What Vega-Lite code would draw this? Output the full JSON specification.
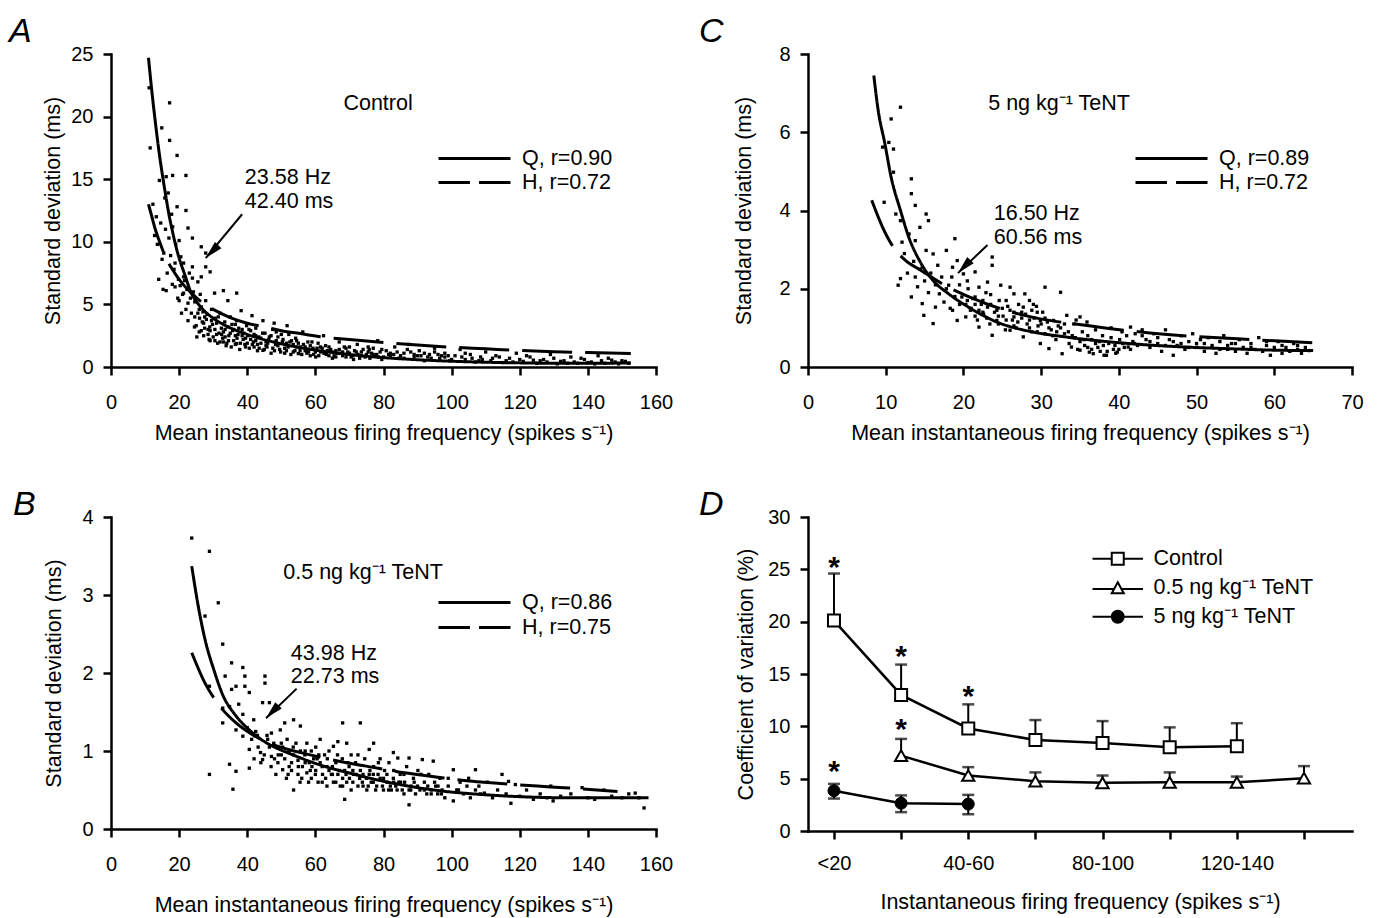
{
"$schema": "https://vega.github.io/schema/vega-lite/v6.json",
"padding": {"left": 9, "top": 15, "right": 5, "bottom": 5},
"background": "white",
"columns": 2,
"bounds": "flush",
"spacing": {"row": 150, "column": 152},
"resolve": {"scale": {"shape": "independent", "fill": "independent", "strokeDash": "independent"}, "legend": {"shape": "independent", "fill": "independent"}},
"config": {
  "font": "Liberation Sans",
  "view": {"stroke": null},
  "axis": {"grid": false, "domainColor": "black", "domainWidth": 2.5, "domainCap": "square", "tickColor": "black", "tickWidth": 2.5, "tickSize": 8, "labelColor": "black", "labelFontSize": 20, "labelFlush": false, "labelOverlap": false, "titleColor": "black", "titleFontSize": 21.5, "titleFontWeight": "normal"},
  "axisX": {"labelPadding": 17, "titleBaseline": "middle"},
  "axisY": {"labelPadding": 10, "titleBaseline": "middle"},
  "legend": {"labelColor": "black"},
  "title": {"color": "black"}
},
"datasets": {
  "A_pts": [
{"x":11.2,"y":22.3},{"x":11.5,"y":17.5},{"x":12.3,"y":13.0},{"x":12.8,"y":10.5},{"x":13.3,"y":12.0},{"x":13.6,"y":9.8},{"x":14.0,"y":7.0},{"x":14.2,"y":14.9},{"x":14.6,"y":11.5},{"x":14.9,"y":19.1},{"x":15.0,"y":8.6},{"x":15.3,"y":6.2},{"x":15.5,"y":9.1},{"x":15.8,"y":13.5},{"x":16.0,"y":11.0},{"x":16.2,"y":15.2},{"x":16.2,"y":6.1},{"x":16.5,"y":7.5},{"x":16.8,"y":13.9},{"x":17.0,"y":10.3},{"x":17.2,"y":21.1},{"x":17.2,"y":18.1},{"x":17.5,"y":8.9},{"x":17.8,"y":12.2},{"x":18.0,"y":6.6},{"x":18.1,"y":15.3},{"x":18.1,"y":11.2},{"x":18.5,"y":7.8},{"x":18.8,"y":8.3},{"x":18.8,"y":6.4},{"x":19.0,"y":9.8},{"x":19.4,"y":16.9},{"x":19.4,"y":12.8},{"x":19.6,"y":5.5},{"x":19.8,"y":7.0},{"x":20.0,"y":10.1},{"x":20.0,"y":5.3},{"x":20.3,"y":6.5},{"x":20.5,"y":8.8},{"x":20.7,"y":4.3},{"x":21.0,"y":5.8},{"x":21.3,"y":8.3},{"x":21.3,"y":7.2},{"x":21.3,"y":5.9},{"x":21.6,"y":6.9},{"x":22.0,"y":15.3},{"x":22.0,"y":12.5},{"x":22.0,"y":4.6},{"x":22.3,"y":6.2},{"x":22.6,"y":11.1},{"x":22.6,"y":5.1},{"x":22.6,"y":3.7},{"x":23.0,"y":7.5},{"x":23.3,"y":5.5},{"x":23.6,"y":4.3},{"x":23.9,"y":10.3},{"x":23.9,"y":8.0},{"x":23.9,"y":7.1},{"x":24.2,"y":6.0},{"x":24.6,"y":4.0},{"x":24.6,"y":5.2},{"x":25.0,"y":3.3},{"x":25.2,"y":2.4},{"x":25.5,"y":6.8},{"x":25.9,"y":2.8},{"x":25.9,"y":4.6},{"x":26.2,"y":5.8},{"x":26.5,"y":9.6},{"x":26.5,"y":7.2},{"x":26.5,"y":4.8},{"x":26.8,"y":3.6},{"x":27.2,"y":3.5},{"x":27.2,"y":2.5},{"x":27.8,"y":9.1},{"x":27.8,"y":8.0},{"x":27.8,"y":5.3},{"x":28.2,"y":4.2},{"x":28.5,"y":3.0},{"x":28.8,"y":2.2},{"x":29.1,"y":7.6},{"x":29.1,"y":2.9},{"x":29.1,"y":2.1},{"x":29.5,"y":4.6},{"x":29.8,"y":3.4},{"x":30.4,"y":9.6},{"x":30.4,"y":5.9},{"x":30.6,"y":3.9},{"x":31.0,"y":2.6},{"x":31.3,"y":1.9},{"x":31.7,"y":2.7},{"x":32.0,"y":4.3},{"x":32.4,"y":3.1},{"x":32.8,"y":2.3},{"x":33.0,"y":6.1},{"x":33.0,"y":2.0},{"x":33.4,"y":3.6},{"x":33.8,"y":1.7},{"x":34.3,"y":5.3},{"x":34.3,"y":3.2},{"x":34.6,"y":2.5},{"x":35.0,"y":4.0},{"x":35.3,"y":1.6},{"x":35.7,"y":2.9},{"x":36.0,"y":2.1},{"x":36.5,"y":3.4},{"x":36.9,"y":5.9},{"x":36.9,"y":3.7},{"x":36.9,"y":1.87},{"x":37.3,"y":2.6},{"x":37.8,"y":1.4},{"x":38.2,"y":4.5},{"x":38.5,"y":3.0},{"x":38.8,"y":2.2},{"x":39.3,"y":1.8},{"x":39.8,"y":3.3},{"x":40.2,"y":2.5},{"x":40.6,"y":1.5},{"x":41.0,"y":2.9},{"x":41.4,"y":4.1},{"x":41.8,"y":2.0},{"x":42.0,"y":1.6},{"x":42.5,"y":3.1},{"x":43.0,"y":1.3},{"x":43.4,"y":2.4},{"x":44.0,"y":1.9},{"x":44.6,"y":3.7},{"x":44.6,"y":1.33},{"x":45.2,"y":2.7},{"x":45.8,"y":1.6},{"x":46.3,"y":2.2},{"x":47.0,"y":1.1},{"x":47.5,"y":3.0},{"x":47.9,"y":3.5},{"x":48.3,"y":1.8},{"x":49.0,"y":2.4},{"x":49.8,"y":1.2},{"x":50.3,"y":2.0},{"x":51.0,"y":1.5},{"x":51.7,"y":3.3},{"x":52.2,"y":2.6},{"x":52.8,"y":1.0},{"x":53.5,"y":1.8},{"x":54.2,"y":2.3},{"x":55.0,"y":1.07},{"x":55.6,"y":1.6},{"x":56.3,"y":2.8},{"x":57.0,"y":1.3},{"x":57.8,"y":2.0},{"x":58.5,"y":0.9},{"x":59.3,"y":1.5},{"x":60.1,"y":0.8},{"x":60.8,"y":1.9},{"x":61.5,"y":1.2},{"x":62.4,"y":2.5},{"x":63.2,"y":1.0},{"x":64.0,"y":1.6},{"x":65.0,"y":0.7},{"x":66.0,"y":1.3},{"x":67.0,"y":2.0},{"x":68.0,"y":0.9},{"x":69.0,"y":1.5},{"x":70.0,"y":1.1},{"x":71.2,"y":0.6},{"x":72.3,"y":1.8},{"x":73.5,"y":1.2},{"x":74.6,"y":0.8},{"x":75.8,"y":1.4},{"x":77.0,"y":1.0},{"x":78.3,"y":2.1},{"x":79.5,"y":0.6},{"x":80.8,"y":1.3},{"x":82.0,"y":0.9},{"x":83.3,"y":1.6},{"x":84.5,"y":0.7},{"x":86.0,"y":1.1},{"x":87.5,"y":1.8},{"x":89.0,"y":0.8},{"x":90.5,"y":1.3},{"x":92.0,"y":0.5},{"x":93.5,"y":1.0},{"x":95.0,"y":1.5},{"x":96.5,"y":0.7},{"x":98.0,"y":1.1},{"x":99.5,"y":0.5},{"x":101,"y":0.9},{"x":102.5,"y":1.4},{"x":104,"y":0.6},{"x":105.5,"y":1.0},{"x":107,"y":0.4},{"x":108.5,"y":0.8},{"x":110,"y":1.2},{"x":111.5,"y":0.5},{"x":113,"y":0.9},{"x":115,"y":0.35},{"x":117,"y":0.7},{"x":119,"y":1.1},{"x":121,"y":0.45},{"x":123,"y":0.8},{"x":125,"y":0.3},{"x":127,"y":0.6},{"x":129,"y":1.0},{"x":131,"y":0.25},{"x":133,"y":0.5},{"x":135,"y":0.8},{"x":137,"y":0.3},{"x":139,"y":0.6},{"x":141,"y":0.4},{"x":143,"y":0.9},{"x":145,"y":0.3},{"x":147,"y":0.55},{"x":149,"y":0.25},{"x":151,"y":0.45},{"x":152,"y":0.3},
{"x":26,"y":3.9},{"x":27,"y":4.4},{"x":28,"y":3.8},{"x":29,"y":3.2},{"x":30,"y":2.4},{"x":31,"y":3.5},{"x":32,"y":2.0},{"x":33,"y":2.8},{"x":34,"y":1.9},{"x":35,"y":2.7},{"x":36,"y":3.0},{"x":37,"y":2.3},{"x":38,"y":1.9},{"x":39,"y":2.7},{"x":40,"y":1.9},{"x":41,"y":2.2},{"x":42,"y":2.6},{"x":43,"y":1.8},{"x":44,"y":2.3},{"x":45,"y":1.4},{"x":46,"y":1.9},{"x":47,"y":2.5},{"x":48,"y":1.3},{"x":49,"y":1.7},{"x":50,"y":2.6},{"x":51,"y":1.1},{"x":52,"y":1.6},{"x":53,"y":2.1},{"x":54,"y":1.3},{"x":55,"y":1.9},{"x":56,"y":1.0},{"x":57,"y":1.6},{"x":58,"y":1.2},{"x":59,"y":2.0},{"x":60,"y":1.2},{"x":61,"y":0.9},{"x":62,"y":1.5},{"x":63,"y":1.7},{"x":64,"y":0.9},{"x":65,"y":1.2},{"x":66,"y":0.8},{"x":67,"y":1.4},{"x":68,"y":1.2},{"x":69,"y":0.8},{"x":70,"y":1.6},{"x":71,"y":0.9},{"x":72,"y":1.2},{"x":73,"y":0.7},{"x":74,"y":1.4},{"x":75,"y":1.0},{"x":76,"y":0.7},{"x":77,"y":1.5},{"x":78,"y":1.0},{"x":79,"y":1.2},{"x":80,"y":0.8},{"x":82,"y":1.1},{"x":84,"y":1.2},{"x":86,"y":0.7},{"x":88,"y":1.2},{"x":90,"y":0.9},{"x":92,"y":1.1},{"x":94,"y":0.7},{"x":96,"y":1.0},{"x":98,"y":0.8},{"x":100,"y":0.6},{"x":103,"y":0.8},{"x":106,"y":0.7},{"x":109,"y":0.6},{"x":112,"y":0.7},{"x":116,"y":0.5},{"x":120,"y":0.6},{"x":124,"y":0.55},{"x":128,"y":0.4},{"x":132,"y":0.45},{"x":136,"y":0.4},{"x":140,"y":0.35},{"x":144,"y":0.5},{"x":148,"y":0.4},
{"x":27.5,"y":3.1},{"x":30.5,"y":3.0},{"x":33.5,"y":2.4},{"x":36.5,"y":2.5},{"x":39.5,"y":2.3},{"x":42.5,"y":2.1},{"x":45.5,"y":2.0},{"x":48.5,"y":2.1},{"x":51.5,"y":1.9},{"x":54.5,"y":1.6},{"x":57.5,"y":1.4},{"x":60.5,"y":1.5},{"x":63.5,"y":1.3},{"x":66.5,"y":1.1},{"x":69.5,"y":1.2},{"x":72.5,"y":1.0},{"x":75.5,"y":1.2},{"x":78.5,"y":0.8},{"x":81.5,"y":1.0},{"x":85,"y":0.9},{"x":89,"y":1.0},{"x":93,"y":0.8},{"x":97,"y":0.9},
{"x":24.5,"y":3.2},{"x":25.5,"y":4.3},{"x":26.5,"y":2.9},{"x":27.5,"y":4.0},{"x":28.5,"y":2.6},{"x":29.5,"y":3.7},{"x":30.5,"y":2.1},{"x":31.5,"y":4.0},{"x":32.5,"y":2.6},{"x":33.5,"y":3.0},{"x":34.5,"y":2.1},{"x":35.5,"y":3.4},{"x":36.5,"y":1.8},{"x":37.5,"y":3.1},{"x":38.5,"y":2.5},{"x":39.5,"y":1.6},{"x":40.5,"y":3.0},{"x":41.5,"y":1.8},{"x":42.5,"y":2.5},{"x":43.5,"y":1.5},{"x":44.5,"y":2.7},{"x":45.5,"y":1.7},{"x":46.5,"y":2.4},{"x":47.5,"y":1.5},{"x":48.5,"y":2.8},{"x":49.5,"y":1.4},{"x":50.5,"y":2.2},{"x":51.5,"y":1.3},{"x":52.5,"y":2.0},{"x":53.5,"y":1.2},{"x":54.5,"y":2.1},{"x":55.5,"y":1.3},{"x":56.5,"y":1.8},{"x":57.5,"y":1.1},{"x":58.5,"y":1.7},{"x":59.5,"y":1.0},{"x":61.5,"y":1.6},{"x":62.5,"y":1.1},{"x":64.5,"y":1.4},{"x":65.5,"y":0.9},{"x":67.5,"y":1.1},{"x":68.5,"y":1.6},{"x":70.5,"y":0.8},{"x":71.5,"y":1.3},{"x":73.5,"y":0.9},{"x":75.5,"y":1.6},{"x":76.5,"y":1.1},{"x":79.5,"y":1.4},{"x":83,"y":1.0},{"x":87,"y":1.4},{"x":91,"y":0.9},{"x":95,"y":1.2},{"x":99,"y":0.9},{"x":104,"y":1.1},{"x":108,"y":0.5},{"x":114,"y":0.8},{"x":118,"y":0.4},{"x":122,"y":0.9},{"x":126,"y":0.5},{"x":130,"y":0.7},{"x":134,"y":0.3},{"x":138,"y":0.7},{"x":142,"y":0.25},{"x":146,"y":0.7},{"x":150,"y":0.5}
  ],
  "A_fit": [
{"fit":"Q","x":11,"y":24.7},{"fit":"Q","x":12,"y":22.0},{"fit":"Q","x":13,"y":19.6},{"fit":"Q","x":14,"y":17.4},{"fit":"Q","x":15,"y":15.5},{"fit":"Q","x":16,"y":13.8},{"fit":"Q","x":17,"y":12.2},{"fit":"Q","x":18,"y":10.9},{"fit":"Q","x":19,"y":9.7},{"fit":"Q","x":20,"y":8.7},{"fit":"Q","x":21.5,"y":7.5},{"fit":"Q","x":23.6,"y":5.9},{"fit":"Q","x":26,"y":4.9},{"fit":"Q","x":29,"y":4.1},{"fit":"Q","x":33,"y":3.4},{"fit":"Q","x":40,"y":2.6},{"fit":"Q","x":50,"y":1.85},{"fit":"Q","x":60,"y":1.35},{"fit":"Q","x":70,"y":1.0},{"fit":"Q","x":80,"y":0.75},{"fit":"Q","x":90,"y":0.58},{"fit":"Q","x":100,"y":0.46},{"fit":"Q","x":110,"y":0.38},{"fit":"Q","x":120,"y":0.33},{"fit":"Q","x":130,"y":0.3},{"fit":"Q","x":140,"y":0.3},{"fit":"Q","x":152.6,"y":0.32},
{"fit":"H","x":11,"y":13.0},{"fit":"H","x":12,"y":12.0},{"fit":"H","x":13,"y":11.0},{"fit":"H","x":14,"y":10.2},{"fit":"H","x":16,"y":8.8},{"fit":"H","x":18,"y":7.8},{"fit":"H","x":20,"y":7.0},{"fit":"H","x":23.6,"y":5.9},{"fit":"H","x":27,"y":5.1},{"fit":"H","x":30,"y":4.6},{"fit":"H","x":35,"y":3.95},{"fit":"H","x":40,"y":3.5},{"fit":"H","x":45,"y":3.2},{"fit":"H","x":50,"y":2.9},{"fit":"H","x":56,"y":2.65},{"fit":"H","x":62,"y":2.4},{"fit":"H","x":70,"y":2.2},{"fit":"H","x":80,"y":1.95},{"fit":"H","x":90,"y":1.75},{"fit":"H","x":100,"y":1.58},{"fit":"H","x":110,"y":1.45},{"fit":"H","x":120,"y":1.32},{"fit":"H","x":130,"y":1.22},{"fit":"H","x":140,"y":1.15},{"fit":"H","x":152.6,"y":1.07}
  ],
  "A_arr": [{"x":38.5,"y":12.2,"x2":27.8,"y2":8.7}],
  "A_num": [{"t":"23.58 Hz","x":39.3,"y":15.1},{"t":"42.40 ms","x":39.3,"y":13.2}],
  "A_cond": [{"t":"Control","x":78.4,"y":21.0}],
  "C_pts": [
{"x":9.6,"y":5.62},{"x":9.8,"y":4.21},{"x":10.4,"y":5.74},{"x":10.7,"y":6.34},{"x":11.0,"y":5.57},{"x":11.0,"y":4.98},{"x":11.3,"y":3.91},{"x":11.6,"y":2.09},{"x":11.9,"y":6.64},{"x":11.9,"y":3.74},{"x":11.9,"y":2.26},{"x":12.1,"y":3.19},{"x":12.4,"y":2.9},{"x":12.8,"y":2.4},{"x":13.0,"y":3.40},{"x":13.3,"y":4.81},{"x":13.3,"y":4.43},{"x":13.3,"y":1.79},{"x":13.6,"y":2.7},{"x":13.8,"y":4.13},{"x":13.8,"y":3.23},{"x":13.8,"y":2.30},{"x":14.1,"y":2.05},{"x":14.4,"y":3.57},{"x":14.4,"y":2.5},{"x":14.7,"y":2.55},{"x":14.7,"y":1.62},{"x":14.9,"y":1.32},{"x":15.0,"y":2.2},{"x":15.2,"y":3.91},{"x":15.2,"y":2.98},{"x":15.5,"y":3.74},{"x":15.5,"y":1.9},{"x":15.8,"y":2.4},{"x":16.1,"y":2.89},{"x":16.1,"y":1.11},{"x":16.4,"y":1.53},{"x":16.4,"y":2.1},{"x":16.7,"y":2.6},{"x":16.9,"y":1.87},{"x":17.2,"y":2.3},{"x":17.5,"y":1.66},{"x":17.8,"y":2.98},{"x":17.8,"y":2.0},{"x":18.1,"y":2.09},{"x":18.3,"y":1.5},{"x":18.6,"y":2.55},{"x":18.6,"y":1.45},{"x":18.9,"y":3.28},{"x":18.9,"y":1.8},{"x":19.2,"y":2.72},{"x":19.2,"y":1.19},{"x":19.5,"y":2.1},{"x":19.8,"y":1.79},{"x":20.0,"y":2.38},{"x":20.3,"y":1.28},{"x":20.3,"y":1.6},{"x":20.6,"y":2.0},{"x":20.9,"y":1.45},{"x":21.2,"y":1.75},{"x":21.5,"y":2.43},{"x":21.5,"y":1.79},{"x":21.8,"y":1.2},{"x":22.0,"y":2.04},{"x":22.0,"y":1.45},{"x":22.0,"y":1.02},{"x":22.3,"y":1.6},{"x":22.6,"y":1.35},{"x":22.9,"y":1.9},{"x":23.1,"y":2.17},{"x":23.1,"y":1.53},{"x":23.4,"y":1.1},{"x":23.7,"y":2.81},{"x":23.7,"y":2.6},{"x":23.7,"y":0.81},{"x":24.0,"y":1.4},{"x":24.3,"y":1.45},{"x":24.3,"y":1.19},{"x":24.6,"y":1.7},{"x":24.8,"y":2.09},{"x":25.1,"y":1.3},{"x":25.4,"y":0.95},{"x":25.7,"y":1.55},{"x":26.0,"y":2.04},{"x":26.0,"y":1.45},{"x":26.0,"y":0.94},{"x":26.3,"y":1.2},{"x":26.5,"y":1.87},{"x":26.5,"y":1.28},{"x":26.8,"y":1.0},{"x":27.1,"y":1.6},{"x":27.4,"y":1.35},{"x":27.7,"y":1.53},{"x":27.7,"y":0.77},{"x":27.9,"y":1.87},{"x":28.2,"y":1.1},{"x":28.5,"y":1.7},{"x":28.8,"y":1.45},{"x":28.8,"y":0.9},{"x":29.1,"y":1.25},{"x":29.4,"y":1.55},{"x":29.6,"y":1.05},{"x":29.9,"y":1.19},{"x":29.9,"y":0.60},{"x":30.2,"y":1.4},{"x":30.5,"y":2.04},{"x":30.5,"y":0.85},{"x":30.8,"y":1.15},{"x":31.0,"y":0.47},{"x":31.3,"y":0.95},{"x":31.6,"y":1.19},{"x":31.9,"y":0.7},{"x":32.2,"y":1.05},{"x":32.5,"y":1.91},{"x":32.7,"y":0.34},{"x":33.0,"y":0.85},{"x":33.3,"y":1.32},{"x":33.6,"y":0.6},{"x":33.9,"y":0.51},{"x":34.2,"y":1.1},{"x":34.4,"y":0.75},{"x":34.7,"y":0.45},{"x":35.0,"y":1.28},{"x":35.0,"y":0.43},{"x":35.3,"y":0.9},{"x":35.6,"y":0.55},{"x":35.9,"y":1.15},{"x":36.2,"y":0.38},{"x":36.5,"y":0.7},{"x":36.7,"y":0.34},{"x":37.0,"y":0.95},{"x":37.3,"y":0.5},{"x":37.6,"y":0.4},{"x":37.9,"y":0.8},{"x":38.1,"y":0.3},{"x":38.4,"y":0.30},{"x":38.7,"y":0.6},{"x":39.0,"y":1.0},{"x":39.3,"y":0.45},{"x":39.6,"y":0.35},{"x":39.8,"y":0.38},{"x":40.1,"y":0.7},{"x":40.4,"y":0.9},{"x":40.7,"y":0.5},{"x":41.0,"y":0.8},{"x":41.2,"y":0.51},{"x":41.5,"y":1.02},{"x":41.8,"y":0.65},{"x":42.1,"y":0.85},{"x":42.4,"y":0.55},{"x":43.0,"y":0.95},{"x":43.5,"y":0.7},{"x":44.0,"y":0.5},{"x":44.5,"y":0.85},{"x":45.0,"y":0.6},{"x":45.5,"y":0.4},{"x":46.0,"y":0.95},{"x":46.5,"y":0.7},{"x":47.0,"y":0.3},{"x":47.5,"y":0.55},{"x":48.0,"y":0.8},{"x":48.5,"y":0.45},{"x":49.0,"y":0.65},{"x":49.5,"y":0.85},{"x":50.0,"y":0.5},{"x":50.5,"y":0.7},{"x":51.0,"y":0.4},{"x":51.5,"y":0.75},{"x":52.0,"y":0.55},{"x":52.5,"y":0.35},{"x":53.0,"y":0.65},{"x":53.5,"y":0.8},{"x":54.0,"y":0.45},{"x":54.5,"y":0.6},{"x":55.0,"y":0.4},{"x":55.5,"y":0.7},{"x":56.0,"y":0.5},{"x":56.5,"y":0.35},{"x":57.0,"y":0.6},{"x":57.5,"y":0.45},{"x":58.0,"y":0.75},{"x":58.5,"y":0.4},{"x":59.0,"y":0.55},{"x":59.5,"y":0.3},{"x":60.0,"y":0.5},{"x":60.5,"y":0.65},{"x":61.0,"y":0.35},{"x":61.5,"y":0.5},{"x":62.0,"y":0.4},{"x":62.5,"y":0.6},{"x":63.0,"y":0.45},{"x":63.5,"y":0.35},{"x":64.0,"y":0.5},{"x":64.5,"y":0.42},
{"x":20.5,"y":1.7},{"x":21,"y":1.5},{"x":21.5,"y":1.3},{"x":22.5,"y":1.7},{"x":23,"y":1.25},{"x":23.5,"y":1.6},{"x":24.5,"y":1.1},{"x":25,"y":1.5},{"x":25.5,"y":1.2},{"x":26.5,"y":1.4},{"x":27,"y":1.15},{"x":27.5,"y":1.25},{"x":28,"y":1.35},{"x":28.5,"y":1.0},{"x":29,"y":1.6},{"x":29.5,"y":0.9},{"x":30,"y":1.1},{"x":31,"y":1.0},{"x":32,"y":0.9},{"x":33,"y":1.1},{"x":34,"y":0.8},{"x":35,"y":0.65},{"x":36,"y":0.5},{"x":36,"y":0.8},{"x":37,"y":0.6},{"x":38,"y":0.55},{"x":39,"y":0.75},{"x":40,"y":0.45},{"x":42,"y":0.6},{"x":44,"y":0.65},{"x":46,"y":0.55},{"x":48,"y":0.6},{"x":50,"y":0.6},{"x":52,"y":0.5},{"x":54,"y":0.55},
{"x":18.5,"y":2.3},{"x":19.5,"y":1.6},{"x":20.5,"y":2.2},{"x":21.5,"y":1.6},{"x":22.5,"y":1.4},{"x":23.5,"y":1.85},{"x":24.5,"y":1.3},{"x":25.5,"y":1.7},{"x":26.5,"y":1.05},{"x":27.5,"y":1.4},{"x":28.5,"y":1.2},{"x":29.5,"y":1.4},{"x":30.5,"y":1.25},{"x":31.5,"y":0.8},{"x":32.5,"y":1.0},{"x":33.5,"y":0.9},{"x":34.5,"y":1.2},{"x":35.5,"y":0.7},{"x":36.5,"y":0.45},{"x":37.5,"y":0.65},{"x":38.5,"y":0.4},{"x":39.5,"y":0.55},{"x":40.5,"y":0.6},{"x":41.5,"y":0.45},{"x":43,"y":0.8},{"x":45,"y":0.75},{"x":47,"y":0.65},{"x":49,"y":0.5},{"x":51,"y":0.6},{"x":53,"y":0.45},{"x":55,"y":0.6},{"x":57,"y":0.5},{"x":59,"y":0.65},{"x":61,"y":0.55},{"x":63,"y":0.55}
  ],
  "C_fit": [
{"fit":"Q","x":8.47,"y":7.45},{"fit":"Q","x":9,"y":6.6},{"fit":"Q","x":9.9,"y":5.7},{"fit":"Q","x":10.7,"y":4.85},{"fit":"Q","x":11.9,"y":4.0},{"fit":"Q","x":13,"y":3.3},{"fit":"Q","x":14.4,"y":2.7},{"fit":"Q","x":16.1,"y":2.21},{"fit":"Q","x":18.1,"y":1.87},{"fit":"Q","x":20.9,"y":1.5},{"fit":"Q","x":24.3,"y":1.15},{"fit":"Q","x":28.8,"y":0.9},{"fit":"Q","x":32.7,"y":0.78},{"fit":"Q","x":38.4,"y":0.65},{"fit":"Q","x":44,"y":0.56},{"fit":"Q","x":49.7,"y":0.5},{"fit":"Q","x":55.3,"y":0.46},{"fit":"Q","x":60,"y":0.43},{"fit":"Q","x":65,"y":0.42},
{"fit":"H","x":8.2,"y":4.26},{"fit":"H","x":9.6,"y":3.57},{"fit":"H","x":11,"y":3.06},{"fit":"H","x":12.4,"y":2.75},{"fit":"H","x":14.7,"y":2.45},{"fit":"H","x":17.5,"y":2.1},{"fit":"H","x":20.9,"y":1.78},{"fit":"H","x":25.4,"y":1.45},{"fit":"H","x":29.9,"y":1.23},{"fit":"H","x":34.4,"y":1.1},{"fit":"H","x":39,"y":0.98},{"fit":"H","x":44,"y":0.87},{"fit":"H","x":49.7,"y":0.78},{"fit":"H","x":55.3,"y":0.72},{"fit":"H","x":60,"y":0.67},{"fit":"H","x":65,"y":0.62}
  ],
  "C_arr": [{"x":23.1,"y":3.12,"x2":19.3,"y2":2.4}],
  "C_num": [{"t":"16.50 Hz","x":23.9,"y":3.9},{"t":"60.56 ms","x":23.9,"y":3.3}],
  "C_cond": [{"t":"5 ng kg⁻¹ TeNT","x":32.3,"y":6.73}],
  "B_pts": [
{"x":23.7,"y":3.73},{"x":27.6,"y":2.73},{"x":28.9,"y":3.56},{"x":28.9,"y":1.83},{"x":28.9,"y":0.70},{"x":31.5,"y":2.90},{"x":32.8,"y":2.37},{"x":32.8,"y":1.55},{"x":32.8,"y":1.36},{"x":33.5,"y":1.96},{"x":34.8,"y":1.57},{"x":34.8,"y":0.83},{"x":35.4,"y":2.13},{"x":35.4,"y":1.79},{"x":35.8,"y":0.51},{"x":36.7,"y":1.83},{"x":36.7,"y":1.27},{"x":36.7,"y":0.74},{"x":37.5,"y":1.6},{"x":38.7,"y":2.07},{"x":38.7,"y":1.47},{"x":38.7,"y":1.19},{"x":39.3,"y":1.96},{"x":39.3,"y":1.83},{"x":40.0,"y":1.3},{"x":40.6,"y":1.75},{"x":40.6,"y":1.02},{"x":40.6,"y":0.78},{"x":41.3,"y":1.15},{"x":41.9,"y":1.40},{"x":42.5,"y":1.25},{"x":43.2,"y":1.05},{"x":43.9,"y":0.98},{"x":44.5,"y":1.62},{"x":44.5,"y":0.89},{"x":45.2,"y":1.96},{"x":45.2,"y":1.87},{"x":45.8,"y":1.2},{"x":46.5,"y":1.62},{"x":46.5,"y":1.05},{"x":47.1,"y":1.23},{"x":47.1,"y":0.93},{"x":47.8,"y":1.1},{"x":48.4,"y":1.57},{"x":48.4,"y":0.70},{"x":49.1,"y":0.95},{"x":49.7,"y":1.27},{"x":50.4,"y":0.76},{"x":50.4,"y":1.05},{"x":51.0,"y":1.36},{"x":51.0,"y":0.9},{"x":51.7,"y":1.15},{"x":52.3,"y":0.80},{"x":52.3,"y":1.0},{"x":53.0,"y":0.85},{"x":53.6,"y":1.40},{"x":53.6,"y":0.50},{"x":53.6,"y":0.95},{"x":54.3,"y":1.1},{"x":54.9,"y":0.70},{"x":54.9,"y":0.88},{"x":55.6,"y":1.32},{"x":55.6,"y":1.0},{"x":56.2,"y":0.8},{"x":56.9,"y":0.95},{"x":57.5,"y":0.72},{"x":57.5,"y":1.1},{"x":58.2,"y":0.85},{"x":58.8,"y":0.65},{"x":58.8,"y":1.0},{"x":59.5,"y":0.9},{"x":60.1,"y":0.75},{"x":60.1,"y":1.05},{"x":60.8,"y":0.6},{"x":61.4,"y":0.85},{"x":61.4,"y":1.15},{"x":62.1,"y":0.7},{"x":62.7,"y":0.95},{"x":63.4,"y":0.55},{"x":63.4,"y":0.8},{"x":64.0,"y":1.0},{"x":64.7,"y":0.7},{"x":65.3,"y":1.06},{"x":65.3,"y":0.6},{"x":66.0,"y":0.85},{"x":66.6,"y":1.12},{"x":66.6,"y":0.7},{"x":67.3,"y":0.55},{"x":67.9,"y":0.9},{"x":68.0,"y":1.36},{"x":68.6,"y":0.38},{"x":68.6,"y":0.75},{"x":69.2,"y":1.10},{"x":69.2,"y":0.6},{"x":69.9,"y":0.8},{"x":70.5,"y":0.5},{"x":70.5,"y":0.95},{"x":71.2,"y":0.7},{"x":71.8,"y":0.85},{"x":72.5,"y":0.55},{"x":73.2,"y":1.36},{"x":73.2,"y":0.75},{"x":73.8,"y":0.6},{"x":74.5,"y":0.9},{"x":75.1,"y":0.5},{"x":75.8,"y":1.02},{"x":75.8,"y":0.7},{"x":76.4,"y":0.6},{"x":77.1,"y":1.10},{"x":77.1,"y":0.8},{"x":77.7,"y":0.5},{"x":78.4,"y":0.7},{"x":79.0,"y":0.9},{"x":79.7,"y":0.55},{"x":80.3,"y":0.75},{"x":81.0,"y":0.6},{"x":81.6,"y":0.85},{"x":82.3,"y":0.5},{"x":82.9,"y":0.98},{"x":82.9,"y":0.65},{"x":83.6,"y":0.55},{"x":84.2,"y":0.91},{"x":84.9,"y":0.7},{"x":85.5,"y":0.5},{"x":86.2,"y":0.6},{"x":86.8,"y":0.8},{"x":87.5,"y":0.91},{"x":87.5,"y":0.31},{"x":88.1,"y":0.55},{"x":88.8,"y":0.65},{"x":89.4,"y":0.45},{"x":90.1,"y":0.75},{"x":90.7,"y":0.5},{"x":91.4,"y":0.89},{"x":92.0,"y":0.6},{"x":92.7,"y":0.45},{"x":93.3,"y":0.7},{"x":94.0,"y":0.5},{"x":94.6,"y":0.87},{"x":95.3,"y":0.55},{"x":95.9,"y":0.45},{"x":96.6,"y":0.65},{"x":97.2,"y":0.5},{"x":98.0,"y":0.4},{"x":99.0,"y":0.55},{"x":100.5,"y":0.76},{"x":100.5,"y":0.36},{"x":101.5,"y":0.5},{"x":102.5,"y":0.6},{"x":103.5,"y":0.45},{"x":104.5,"y":0.55},{"x":105.5,"y":0.4},{"x":107,"y":0.76},{"x":107,"y":0.5},{"x":108.5,"y":0.45},{"x":109.6,"y":0.46},{"x":110.5,"y":0.6},{"x":112,"y":0.4},{"x":113.5,"y":0.5},{"x":114.8,"y":0.70},{"x":116,"y":0.45},{"x":116.7,"y":0.61},{"x":117.4,"y":0.33},{"x":118.7,"y":0.57},{"x":120,"y":0.42},{"x":122,"y":0.5},{"x":124,"y":0.38},{"x":126,"y":0.45},{"x":128,"y":0.4},{"x":129.1,"y":0.55},{"x":129.8,"y":0.36},{"x":132,"y":0.42},{"x":135,"y":0.45},{"x":138.3,"y":0.53},{"x":140,"y":0.4},{"x":142,"y":0.38},{"x":144.7,"y":0.50},{"x":147,"y":0.42},{"x":150,"y":0.4},{"x":152,"y":0.45},{"x":153.9,"y":0.46},{"x":155,"y":0.4},{"x":156.5,"y":0.27},
{"x":45,"y":0.95},{"x":47,"y":0.8},{"x":49,"y":0.85},{"x":50,"y":0.95},{"x":52,"y":0.7},{"x":53,"y":0.75},{"x":55,"y":0.8},{"x":56,"y":0.65},{"x":57,"y":0.85},{"x":58,"y":0.6},{"x":59,"y":0.8},{"x":60,"y":0.7},{"x":61,"y":0.95},{"x":62,"y":0.8},{"x":63,"y":0.65},{"x":64,"y":0.75},{"x":65,"y":0.8},{"x":66,"y":0.6},{"x":67,"y":0.75},{"x":68,"y":0.65},{"x":69,"y":0.7},{"x":70,"y":0.65},{"x":71,"y":0.6},{"x":72,"y":0.7},{"x":73,"y":0.65},{"x":74,"y":0.55},{"x":75,"y":0.65},{"x":76,"y":0.75},{"x":77,"y":0.6},{"x":78,"y":0.55},{"x":79,"y":0.65},{"x":80,"y":0.5},{"x":81,"y":0.7},{"x":82,"y":0.55},{"x":83,"y":0.6},{"x":84,"y":0.5},{"x":85,"y":0.6},{"x":86,"y":0.45},{"x":88,"y":0.5},{"x":90,"y":0.55},{"x":92,"y":0.5},{"x":94,"y":0.45},{"x":96,"y":0.55},
{"x":42,"y":0.9},{"x":43,"y":1.2},{"x":44,"y":0.85},{"x":46,"y":1.15},{"x":48,"y":0.9},{"x":50,"y":1.1},{"x":51.5,"y":0.65},{"x":53.5,"y":1.05},{"x":55.5,"y":0.6},{"x":57,"y":1.0},{"x":58.5,"y":0.75},{"x":60.5,"y":0.9},{"x":62,"y":0.6},{"x":63.5,"y":0.9},{"x":65,"y":0.7},{"x":66.5,"y":0.95},{"x":68,"y":0.55},{"x":69.5,"y":0.85},{"x":71,"y":0.75},{"x":72.5,"y":0.95},{"x":74,"y":0.7},{"x":75.5,"y":0.55},{"x":77,"y":0.7},{"x":78.5,"y":0.85},{"x":80,"y":0.65},{"x":81.5,"y":0.5},{"x":83,"y":0.75},{"x":84.5,"y":0.6},{"x":86,"y":0.7},{"x":87.5,"y":0.5},{"x":89,"y":0.6},{"x":91,"y":0.7},{"x":93,"y":0.55},{"x":95,"y":0.6},{"x":97,"y":0.45},{"x":99,"y":0.65},{"x":102,"y":0.5},{"x":105,"y":0.65},{"x":108,"y":0.55}
  ],
  "B_fit": [
{"fit":"Q","x":23.7,"y":3.37},{"fit":"Q","x":25.6,"y":2.86},{"fit":"Q","x":27.6,"y":2.43},{"fit":"Q","x":30.2,"y":2.04},{"fit":"Q","x":32.8,"y":1.72},{"fit":"Q","x":36.7,"y":1.45},{"fit":"Q","x":40.6,"y":1.27},{"fit":"Q","x":44,"y":1.15},{"fit":"Q","x":48,"y":1.05},{"fit":"Q","x":52.3,"y":0.97},{"fit":"Q","x":60.1,"y":0.84},{"fit":"Q","x":70.6,"y":0.71},{"fit":"Q","x":83.6,"y":0.58},{"fit":"Q","x":96.6,"y":0.49},{"fit":"Q","x":109.6,"y":0.44},{"fit":"Q","x":122.6,"y":0.41},{"fit":"Q","x":135.6,"y":0.4},{"fit":"Q","x":157.8,"y":0.4},
{"fit":"H","x":23.7,"y":2.26},{"fit":"H","x":27.6,"y":1.87},{"fit":"H","x":31.5,"y":1.6},{"fit":"H","x":36.7,"y":1.36},{"fit":"H","x":41.9,"y":1.2},{"fit":"H","x":44,"y":1.15},{"fit":"H","x":48.4,"y":1.07},{"fit":"H","x":57.5,"y":0.96},{"fit":"H","x":68,"y":0.86},{"fit":"H","x":78.4,"y":0.78},{"fit":"H","x":86.2,"y":0.72},{"fit":"H","x":96.6,"y":0.66},{"fit":"H","x":104.4,"y":0.62},{"fit":"H","x":109.6,"y":0.6},{"fit":"H","x":125.2,"y":0.55},{"fit":"H","x":133,"y":0.53},{"fit":"H","x":148.7,"y":0.48}
  ],
  "B_arr": [{"x":54.5,"y":1.8,"x2":45.5,"y2":1.42}],
  "B_num": [{"t":"43.98 Hz","x":52.8,"y":2.25},{"t":"22.73 ms","x":52.8,"y":1.95}],
  "B_cond": [{"t":"0.5 ng kg⁻¹ TeNT","x":74.0,"y":3.28}],
  "D": [
{"s":"Control","f":"<20","cv":20.1,"lo":20.1,"hi":24.6},
{"s":"Control","f":"20-40","cv":13.0,"lo":13.0,"hi":15.9},
{"s":"Control","f":"40-60","cv":9.8,"lo":9.8,"hi":12.1},
{"s":"Control","f":"60-80","cv":8.7,"lo":8.7,"hi":10.6},
{"s":"Control","f":"80-100","cv":8.4,"lo":8.4,"hi":10.5},
{"s":"Control","f":"100-120","cv":8.0,"lo":8.0,"hi":9.9},
{"s":"Control","f":"120-140","cv":8.1,"lo":8.1,"hi":10.3},
{"s":"0.5 ng kg⁻¹ TeNT","f":"20-40","cv":7.2,"lo":7.2,"hi":8.8},
{"s":"0.5 ng kg⁻¹ TeNT","f":"40-60","cv":5.3,"lo":5.3,"hi":6.1},
{"s":"0.5 ng kg⁻¹ TeNT","f":"60-80","cv":4.75,"lo":4.75,"hi":5.6},
{"s":"0.5 ng kg⁻¹ TeNT","f":"80-100","cv":4.6,"lo":4.6,"hi":5.3},
{"s":"0.5 ng kg⁻¹ TeNT","f":"100-120","cv":4.65,"lo":4.65,"hi":5.6},
{"s":"0.5 ng kg⁻¹ TeNT","f":"120-140","cv":4.65,"lo":4.65,"hi":5.2},
{"s":"0.5 ng kg⁻¹ TeNT","f":"140-160","cv":5.05,"lo":5.05,"hi":6.2},
{"s":"5 ng kg⁻¹ TeNT","f":"<20","cv":3.85,"lo":3.1,"hi":4.5},
{"s":"5 ng kg⁻¹ TeNT","f":"20-40","cv":2.65,"lo":1.8,"hi":3.4},
{"s":"5 ng kg⁻¹ TeNT","f":"40-60","cv":2.57,"lo":1.6,"hi":3.45}
  ],
  "D_star": [{"f":"<20","y":25.8},{"f":"20-40","y":17.3},{"f":"40-60","y":13.5},{"f":"20-40","y":10.3},{"f":"<20","y":6.3}]
},
"concat": [
 {
  "width": 545, "height": 313,
  "title": {"text": "A", "anchor": "start", "frame": "group", "fontSize": 34, "fontStyle": "italic", "fontWeight": "normal", "baseline": "alphabetic", "dx": -102, "offset": -32},
  "layer": [
   {"data": {"name": "A_pts"}, "mark": {"type": "point", "filled": true, "shape": "square", "size": 11, "color": "black", "opacity": 1},
    "encoding": {
     "x": {"field": "x", "type": "quantitative", "scale": {"domain": [0, 160], "nice": false}, "axis": {"values": [0,20,40,60,80,100,120,140,160], "title": "Mean instantaneous firing frequency (spikes s⁻¹)", "titleY": 66}},
     "y": {"field": "y", "type": "quantitative", "scale": {"domain": [0, 25], "nice": false}, "axis": {"values": [0,5,10,15,20,25], "format": "d", "title": "Standard deviation (ms)", "titleX": -58}}}},
   {"data": {"name": "A_fit"}, "mark": {"type": "line", "color": "black", "strokeWidth": 3, "interpolate": "monotone"},
    "encoding": {"x": {"field": "x", "type": "quantitative"}, "y": {"field": "y", "type": "quantitative"},
     "strokeDash": {"field": "fit", "type": "nominal", "scale": {"domain": ["Q", "H"], "range": [[1, 0], [50, 13]]}, "legend": null}}},
   {"data": {"name": "A_arr"}, "mark": {"type": "rule", "color": "black", "strokeWidth": 2},
    "encoding": {"x": {"field": "x", "type": "quantitative"}, "y": {"field": "y", "type": "quantitative"}, "x2": {"field": "x2"}, "y2": {"field": "y2"}}},
   {"data": {"name": "A_arr"}, "mark": {"type": "point", "shape": "M0,0L0.5,2L-0.5,2Z", "size": 324, "angle": 224, "filled": true, "color": "black", "opacity": 1},
    "encoding": {"x": {"field": "x2", "type": "quantitative"}, "y": {"field": "y2", "type": "quantitative"}}},
   {"data": {"name": "A_num"}, "mark": {"type": "text", "align": "left", "baseline": "middle", "fontSize": 21.5, "color": "black"},
    "encoding": {"x": {"field": "x", "type": "quantitative"}, "y": {"field": "y", "type": "quantitative"}, "text": {"field": "t"}}},
   {"data": {"name": "A_cond"}, "mark": {"type": "text", "align": "center", "baseline": "middle", "fontSize": 21.5, "color": "black"},
    "encoding": {"x": {"field": "x", "type": "quantitative"}, "y": {"field": "y", "type": "quantitative"}, "text": {"field": "t"}}},
   {"data": {"name": "A_fit"}, "transform": [{"filter": "false"}], "mark": {"type": "point", "filled": false, "color": "black", "strokeWidth": 3, "opacity": 1},
    "encoding": {"shape": {"field": "lbl", "type": "nominal", "scale": {"domain": ["Q, r=0.90", "H, r=0.72"], "range": ["M-3,0H3", "M-3,0H-0.38M0.38,0H3"]},
     "legend": {"orient": "none", "legendX": 350, "legendY": 91, "title": null, "symbolSize": 576, "symbolStrokeWidth": 3, "symbolStrokeColor": "black", "symbolFillColor": "transparent", "symbolOpacity": 1, "labelFontSize": 21.5, "labelOffset": 34, "rowPadding": 0, "padding": 0}}}}
  ]
 },
 {
  "width": 544, "height": 313,
  "title": {"text": "C", "anchor": "start", "frame": "group", "fontSize": 34, "fontStyle": "italic", "fontWeight": "normal", "baseline": "alphabetic", "dx": -109, "offset": -32},
  "layer": [
   {"data": {"name": "C_pts"}, "mark": {"type": "point", "filled": true, "shape": "square", "size": 11, "color": "black", "opacity": 1},
    "encoding": {
     "x": {"field": "x", "type": "quantitative", "scale": {"domain": [0, 70], "nice": false}, "axis": {"values": [0,10,20,30,40,50,60,70], "title": "Mean instantaneous firing frequency (spikes s⁻¹)", "titleY": 66}},
     "y": {"field": "y", "type": "quantitative", "scale": {"domain": [0, 8], "nice": false}, "axis": {"values": [0,2,4,6,8], "format": "d", "title": "Standard deviation (ms)", "titleX": -64}}}},
   {"data": {"name": "C_fit"}, "mark": {"type": "line", "color": "black", "strokeWidth": 3, "interpolate": "monotone"},
    "encoding": {"x": {"field": "x", "type": "quantitative"}, "y": {"field": "y", "type": "quantitative"},
     "strokeDash": {"field": "fit", "type": "nominal", "scale": {"domain": ["Q", "H"], "range": [[1, 0], [50, 13]]}, "legend": null}}},
   {"data": {"name": "C_arr"}, "mark": {"type": "rule", "color": "black", "strokeWidth": 2},
    "encoding": {"x": {"field": "x", "type": "quantitative"}, "y": {"field": "y", "type": "quantitative"}, "x2": {"field": "x2"}, "y2": {"field": "y2"}}},
   {"data": {"name": "C_arr"}, "mark": {"type": "point", "shape": "M0,0L0.5,2L-0.5,2Z", "size": 324, "angle": 224, "filled": true, "color": "black", "opacity": 1},
    "encoding": {"x": {"field": "x2", "type": "quantitative"}, "y": {"field": "y2", "type": "quantitative"}}},
   {"data": {"name": "C_num"}, "mark": {"type": "text", "align": "left", "baseline": "middle", "fontSize": 21.5, "color": "black"},
    "encoding": {"x": {"field": "x", "type": "quantitative"}, "y": {"field": "y", "type": "quantitative"}, "text": {"field": "t"}}},
   {"data": {"name": "C_cond"}, "mark": {"type": "text", "align": "center", "baseline": "middle", "fontSize": 21.5, "color": "black"},
    "encoding": {"x": {"field": "x", "type": "quantitative"}, "y": {"field": "y", "type": "quantitative"}, "text": {"field": "t"}}},
   {"data": {"name": "C_fit"}, "transform": [{"filter": "false"}], "mark": {"type": "point", "filled": false, "color": "black", "strokeWidth": 3, "opacity": 1},
    "encoding": {"shape": {"field": "lbl", "type": "nominal", "scale": {"domain": ["Q, r=0.89", "H, r=0.72"], "range": ["M-3,0H3", "M-3,0H-0.38M0.38,0H3"]},
     "legend": {"orient": "none", "legendX": 350, "legendY": 91, "title": null, "symbolSize": 576, "symbolStrokeWidth": 3, "symbolStrokeColor": "black", "symbolFillColor": "transparent", "symbolOpacity": 1, "labelFontSize": 21.5, "labelOffset": 34, "rowPadding": 0, "padding": 0}}}}
  ]
 },
 {
  "width": 545, "height": 312,
  "title": {"text": "B", "anchor": "start", "frame": "group", "fontSize": 34, "fontStyle": "italic", "fontWeight": "normal", "baseline": "alphabetic", "dx": -98, "offset": -42},
  "layer": [
   {"data": {"name": "B_pts"}, "mark": {"type": "point", "filled": true, "shape": "square", "size": 11, "color": "black", "opacity": 1},
    "encoding": {
     "x": {"field": "x", "type": "quantitative", "scale": {"domain": [0, 160], "nice": false}, "axis": {"values": [0,20,40,60,80,100,120,140,160], "title": "Mean instantaneous firing frequency (spikes s⁻¹)", "titleY": 76}},
     "y": {"field": "y", "type": "quantitative", "scale": {"domain": [0, 4], "nice": false}, "axis": {"values": [0,1,2,3,4], "format": "d", "title": "Standard deviation (ms)", "titleX": -57}}}},
   {"data": {"name": "B_fit"}, "mark": {"type": "line", "color": "black", "strokeWidth": 3, "interpolate": "monotone"},
    "encoding": {"x": {"field": "x", "type": "quantitative"}, "y": {"field": "y", "type": "quantitative"},
     "strokeDash": {"field": "fit", "type": "nominal", "scale": {"domain": ["Q", "H"], "range": [[1, 0], [50, 13]]}, "legend": null}}},
   {"data": {"name": "B_arr"}, "mark": {"type": "rule", "color": "black", "strokeWidth": 2},
    "encoding": {"x": {"field": "x", "type": "quantitative"}, "y": {"field": "y", "type": "quantitative"}, "x2": {"field": "x2"}, "y2": {"field": "y2"}}},
   {"data": {"name": "B_arr"}, "mark": {"type": "point", "shape": "M0,0L0.5,2L-0.5,2Z", "size": 324, "angle": 224, "filled": true, "color": "black", "opacity": 1},
    "encoding": {"x": {"field": "x2", "type": "quantitative"}, "y": {"field": "y2", "type": "quantitative"}}},
   {"data": {"name": "B_num"}, "mark": {"type": "text", "align": "left", "baseline": "middle", "fontSize": 21.5, "color": "black"},
    "encoding": {"x": {"field": "x", "type": "quantitative"}, "y": {"field": "y", "type": "quantitative"}, "text": {"field": "t"}}},
   {"data": {"name": "B_cond"}, "mark": {"type": "text", "align": "center", "baseline": "middle", "fontSize": 21.5, "color": "black"},
    "encoding": {"x": {"field": "x", "type": "quantitative"}, "y": {"field": "y", "type": "quantitative"}, "text": {"field": "t"}}},
   {"data": {"name": "B_fit"}, "transform": [{"filter": "false"}], "mark": {"type": "point", "filled": false, "color": "black", "strokeWidth": 3, "opacity": 1},
    "encoding": {"shape": {"field": "lbl", "type": "nominal", "scale": {"domain": ["Q, r=0.86", "H, r=0.75"], "range": ["M-3,0H3", "M-3,0H-0.38M0.38,0H3"]},
     "legend": {"orient": "none", "legendX": 350, "legendY": 72, "title": null, "symbolSize": 576, "symbolStrokeWidth": 3, "symbolStrokeColor": "black", "symbolFillColor": "transparent", "symbolOpacity": 1, "labelFontSize": 21.5, "labelOffset": 34, "rowPadding": 1, "padding": 0}}}}
  ]
 },
 {
  "width": 544, "height": 314,
  "title": {"text": "D", "anchor": "start", "frame": "group", "fontSize": 34, "fontStyle": "italic", "fontWeight": "normal", "baseline": "alphabetic", "dx": -109, "offset": -42},
  "layer": [
   {"data": {"name": "D"}, "mark": {"type": "line", "color": "black", "strokeWidth": 2.5},
    "encoding": {
     "x": {"field": "f", "type": "ordinal", "scale": {"type": "point", "domain": ["<20","20-40","40-60","60-80","80-100","100-120","120-140","140-160"], "padding": 0.551, "align": 0.351},
      "axis": {"title": "Instantaneous firing frequency (spikes s⁻¹)", "labelAngle": 0, "labelAlign": "center", "labelBaseline": "top", "labelPadding": 14, "titleY": 71, "labelExpr": "indexof(['<20','40-60','80-100','120-140'], datum.value) >= 0 ? datum.label : ''"}},
     "y": {"field": "cv", "type": "quantitative", "scale": {"domain": [0, 30], "nice": false}, "axis": {"values": [0,5,10,15,20,25,30], "format": "d", "title": "Coefficient of variation (%)", "titleX": -62}},
     "detail": {"field": "s"},
     "order": {"value": null}}},
   {"data": {"name": "D"}, "mark": {"type": "rule", "color": "black", "strokeWidth": 2},
    "encoding": {"x": {"field": "f", "type": "ordinal"}, "y": {"field": "lo", "type": "quantitative"}, "y2": {"field": "hi"}}},
   {"data": {"name": "D"}, "mark": {"type": "tick", "color": "black", "size": 12, "thickness": 2.5},
    "encoding": {"x": {"field": "f", "type": "ordinal"}, "y": {"field": "hi", "type": "quantitative"}}},
   {"data": {"name": "D"}, "transform": [{"filter": "datum.s == '5 ng kg⁻¹ TeNT'"}], "mark": {"type": "tick", "color": "black", "size": 12, "thickness": 2.5},
    "encoding": {"x": {"field": "f", "type": "ordinal"}, "y": {"field": "lo", "type": "quantitative"}}},
   {"data": {"name": "D"}, "transform": [{"filter": "datum.s == 'Control'"}], "mark": {"type": "point", "shape": "square", "size": 144, "filled": true, "fill": "white", "stroke": "black", "strokeWidth": 2, "opacity": 1},
    "encoding": {"x": {"field": "f", "type": "ordinal"}, "y": {"field": "cv", "type": "quantitative"}}},
   {"data": {"name": "D"}, "transform": [{"filter": "datum.s == '0.5 ng kg⁻¹ TeNT'"}], "mark": {"type": "point", "shape": "triangle-up", "size": 150, "filled": true, "fill": "white", "stroke": "black", "strokeWidth": 2, "opacity": 1},
    "encoding": {"x": {"field": "f", "type": "ordinal"}, "y": {"field": "cv", "type": "quantitative"}}},
   {"data": {"name": "D"}, "transform": [{"filter": "datum.s == '5 ng kg⁻¹ TeNT'"}], "mark": {"type": "point", "shape": "circle", "size": 144, "filled": true, "fill": "black", "stroke": "black", "strokeWidth": 1, "opacity": 1},
    "encoding": {"x": {"field": "f", "type": "ordinal"}, "y": {"field": "cv", "type": "quantitative"}}},
   {"data": {"name": "D_star"}, "mark": {"type": "text", "text": "*", "fontSize": 30, "fontWeight": "bold", "align": "center", "baseline": "middle", "dy": 7, "color": "black"},
    "encoding": {"x": {"field": "f", "type": "ordinal"}, "y": {"field": "y", "type": "quantitative"}}},
   {"data": {"name": "D"}, "transform": [{"filter": "false"}], "mark": {"type": "point", "filled": false, "color": "black", "strokeWidth": 2, "opacity": 1},
    "encoding": {
     "shape": {"field": "s", "type": "nominal", "scale": {"domain": ["Control", "0.5 ng kg⁻¹ TeNT", "5 ng kg⁻¹ TeNT"], "range": ["M-4.2,0H-1M1,0H4.2M-1,-1H1V1H-1Z", "M-4.2,0.2H-0.62M0.62,0.2H4.2M0,-0.9L1,0.9H-1Z", "M-4.2,0H4.2M-1,0A1,1,0,1,1,1,0A1,1,0,1,1,-1,0M-0.7,0A0.7,0.7,0,1,1,0.7,0A0.7,0.7,0,1,1,-0.7,0M-0.4,0A0.4,0.4,0,1,1,0.4,0A0.4,0.4,0,1,1,-0.4,0M-0.15,0A0.15,0.15,0,1,1,0.15,0A0.15,0.15,0,1,1,-0.15,0"]},
      "legend": {"orient": "none", "legendX": 299, "legendY": 31, "title": null, "symbolSize": 144, "symbolStrokeWidth": 2, "symbolStrokeColor": "black", "symbolFillColor": "white", "symbolOpacity": 1, "labelFontSize": 21.5, "labelOffset": 25, "rowPadding": 6, "padding": 0}}}}
  ]
 }
]
}
